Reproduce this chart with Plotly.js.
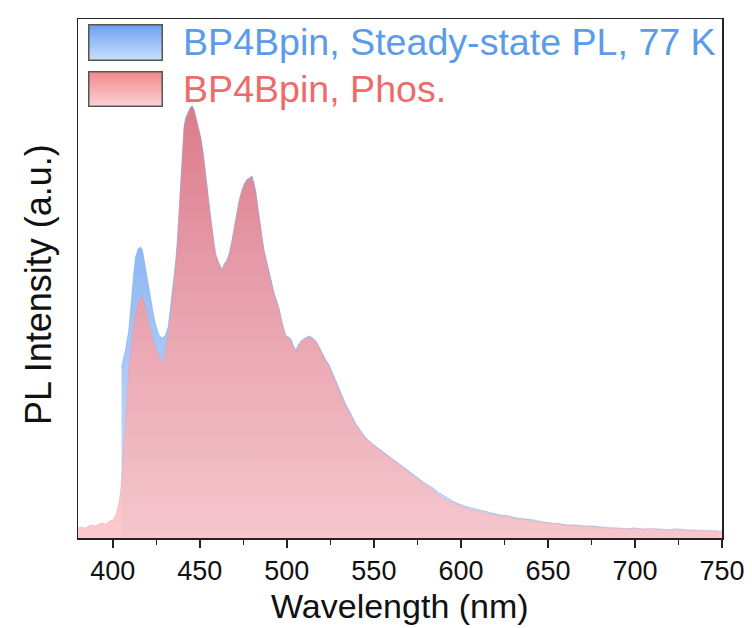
<!DOCTYPE html>
<html>
<head>
<meta charset="utf-8">
<script src="https://cdn.plot.ly/plotly-3.0.1.min.js"></script>
<style>html,body{margin:0;padding:0;background:#fff;}#chart{width:752px;height:628px;}</style>
</head>
<body>
<div id="chart"></div>
<script>
// Phosphorescence spectrum (red)
const wlPhos = [380,382,384,386,388,390,392,394,396,398,400,402,403.5,404.5,405.4,406.3,407.3,408.2,409.2,410.2,411.1,412.1,413.1,414.5,416,417,417.8,419.2,420.7,422.1,423.6,425,426.5,427.5,428.4,429.4,430.3,431.8,433.2,434.6,436.1,437,438,439,440,440.9,441.8,442.8,443.8,444.7,445.7,446.6,447.6,448.5,449.5,450.5,452,453.4,454.8,456.2,457.7,459.1,460.5,462,463,463.9,465.3,466.8,468.3,469.7,471.1,472.5,474,475.4,477.3,478.5,479.8,481,482.1,483,484,485.5,486.9,488.3,489.8,491.2,492.7,494.2,495.6,497.5,499.4,501,502.3,503.8,505.2,506.6,508.1,510.5,512.8,514.8,516.7,518.6,520.5,522.4,524.3,526.2,528.2,530,532,534,535.9,537.8,539.7,542.5,545.5,547,549.3,551,553.1,555,557,559,560.8,562.8,564.5,566.5,568.5,570.4,572,574,576,578.1,580,582,584,585.8,587.5,589.5,591.5,593.4,595,597,599,601.1,603.5,606,608.5,610.7,613,615.5,618,620.3,622.5,625,627.5,629.9,632,634.7,637,639.5,642,644.3,646.5,649.1,651.5,654,656.5,658.7,661,663.5,666,668,670.5,673,675.5,678,680.5,683,685.5,688,690.5,693,695,697,699.5,702,704.5,707,709.5,712,714,716,718.5,721,723.5,726,728.5,731,733,735.5,738,740,742.5,745,747.5,750];
const phos = [10,11,10,12,13,12,14,15,14,17,18,24,35,48,68,93,121,146,168,186,201,214,225,234,240,241,238,228,215,204,195,188,183,178,176,181,188,203,221,246,275,293,323,358,388,410,418,423,427,430,431,428,420,413,406,400,383,360,340,320,300,283,276,270,268,273,276,283,295,310,324,336,346,353,358,359,362,355,346,333,320,303,286,275,263,253,243,235,228,213,201,200,198,191,186,192,196,199,201,199,196,190,183,177,171,163,155,146,138,131,125,118,113,106,99,97,93,91,88,86,83,80,78,76,73,71,68,65,64,60,58,55,53,50,48,45,43,40,39,36,36,34,33,31,30,28,28,26,26,24,24,23,22,21,22,20,19,18,19,17,17,16,17,15,15,14,15,13,13,12,13,12,11,12,11,11,10,11,10,10,9,10,9,9,10,9,8,10,9,9,8,9,8,7,9,9,8,8,7,8,8,7,8,7,7,7];

// Steady-state PL spectrum at 77 K (blue)
const wlPL = [405,405.4,406.3,407.3,408.2,409.2,410.2,411.1,412.1,413.1,414.5,416,417,417.8,419.2,420.7,422.1,423.6,425,426.5,427.5,428.4,429.4,430.3,431.8,433.2,434.6,436.1,437,438,439,440,440.9,441.8,442.8,443.8,444.7,445.7,446.6,447.6,448.5,449.5,450.5,452,453.4,454.8,456.2,457.7,459.1,460.5,462,463,463.9,465.3,466.8,468.3,469.7,471.1,472.5,474,475.4,477.3,478.5,479.8,481,482.1,483,484,485.5,486.9,488.3,489.8,491.2,492.7,494.2,495.6,497.5,499.4,501,502.3,503.8,505.2,506.6,508.1,510.5,512.8,514.8,516.7,518.6,520.5,522.4,524.3,526.2,528.2,530,532,534,535.9,537.8,539.7,542.5,545.5,549.3,553.1,557,560.8,564.5,568.5,572,576,580,584,587.5,591.5,595,599,603.5,608.5,613,618,622.5,627.5,632,637,642,646.5,651.5,656.5,661,666,670.5,675.5,680.5,685.5,690.5,695,699.5,704.5,709.5,714,718.5,723.5,728.5,733,738,742.5,747.5,750];
const pl = [170,175,181,188,198,208,228,248,266,281,289,291,288,280,265,248,233,221,211,203,201,200,201,203,211,231,253,276,295,325,360,390,411,420,425,428,431,432,429,421,414,407,401,384,361,341,321,301,284,277,271,269,274,277,284,296,311,325,337,347,354,359,360,362,356,347,334,321,304,288,277,265,255,245,237,229,214,202,201,199,192,188,193,197,200,202,200,197,191,184,178,173,165,157,148,140,133,127,120,114,107,100,94,89,84,79,74,69,65,59,54,50,45,41,37,34,31,29,27,25,23,22,20,19,18,16,15,14,13,13,12,12,11,10,10,9,10,9,9,9,8,9,8,8,7,7,7];

// Axis tick values
const xTickVals = [400,450,500,550,600,650,700,750];
const xTickText = ['400','450','500','550','600','650','700','750'];
const xMinorVals = [425,475,525,575,625,675,725];

const legendPL = 'BP4Bpin, Steady-state PL, 77 K';
const legendPhos = 'BP4Bpin, Phos.';
const xTitle = 'Wavelength (nm)';
const yTitle = 'PL Intensity (a.u.)';

const FONT = 'Liberation Sans, Arial, sans-serif';
const W = 752, H = 628, ML = 78, MR = 30, MT = 19, MB = 90;
const PW = W - ML - MR, PH = H - MT - MB;
const px2x = p => (p - ML) / PW;
const py2y = p => (H - MB - p) / PH;

function swatch(top, bottom) {
  const svg = "<svg xmlns='http://www.w3.org/2000/svg' width='75' height='37' viewBox='0 0 75 37'>" +
    "<defs><linearGradient id='g' x1='0' y1='0' x2='0' y2='1'>" +
    "<stop offset='0' stop-color='" + top + "'/><stop offset='1' stop-color='" + bottom + "'/>" +
    "</linearGradient></defs>" +
    "<rect x='0.75' y='0.75' width='73.5' height='35.5' fill='url(#g)' stroke='#555' stroke-width='1.5'/></svg>";
  return 'data:image/svg+xml;charset=utf-8,' + encodeURIComponent(svg);
}

const traces = [
  {
    x: wlPL, y: pl, type: 'scatter', mode: 'lines', name: legendPL,
    line: {width: 0.6, color: 'rgba(120,165,235,0.9)'},
    fill: 'tozeroy',
    fillgradient: {type: 'vertical', start: 0, stop: 431,
      colorscale: [[0, 'rgb(208,227,252)'], [1, 'rgb(112,162,238)']]},
    hoverinfo: 'skip'
  },
  {
    x: wlPhos, y: phos, type: 'scatter', mode: 'lines', name: legendPhos,
    line: {width: 0.6, color: 'rgba(228,140,150,0.5)'},
    fill: 'tozeroy',
    fillgradient: {type: 'vertical', start: 0, stop: 431,
      colorscale: [[0, 'rgba(251,194,198,0.87)'], [0.5, 'rgba(244,160,166,0.87)'], [1, 'rgba(236,118,126,0.87)']]},
    hoverinfo: 'skip'
  }
];

const layout = {
  width: W, height: H,
  margin: {l: ML, r: MR, t: MT, b: MB, pad: 0},
  paper_bgcolor: '#ffffff', plot_bgcolor: '#ffffff',
  showlegend: false,
  font: {family: FONT, color: '#111'},
  xaxis: {
    range: [380, 750], tickmode: 'array', tickvals: xTickVals, ticktext: xTickText,
    ticks: 'outside', ticklen: 8, tickwidth: 1.5, tickcolor: '#222',
    showline: true, linecolor: '#222', linewidth: 1.5, mirror: true,
    showgrid: false, zeroline: false,
    tickfont: {family: FONT, size: 27, color: '#111'},
    minor: {tickmode: 'array', tickvals: xMinorVals, ticks: 'outside', ticklen: 5, tickwidth: 1.5, tickcolor: '#222', showgrid: false}
  },
  yaxis: {
    range: [0, 519], showline: true, linecolor: '#222', linewidth: 1.5, mirror: true,
    showticklabels: false, ticks: '', showgrid: false, zeroline: false
  },
  annotations: [
    {text: xTitle, xref: 'paper', yref: 'paper', x: 0.5, y: py2y(606), xanchor: 'center', yanchor: 'middle',
     showarrow: false, font: {family: FONT, size: 34, color: '#111'}},
    {text: yTitle, xref: 'paper', yref: 'paper', x: px2x(38), y: py2y(285), xanchor: 'center', yanchor: 'middle',
     textangle: -90, showarrow: false, font: {family: FONT, size: 36, color: '#111'}},
    {text: legendPL, xref: 'paper', yref: 'paper', x: px2x(181), y: py2y(42), xanchor: 'left', yanchor: 'middle',
     showarrow: false, font: {family: FONT, size: 37.6, color: '#5b9be9'}},
    {text: legendPhos, xref: 'paper', yref: 'paper', x: px2x(181), y: py2y(89), xanchor: 'left', yanchor: 'middle',
     showarrow: false, font: {family: FONT, size: 37.6, color: '#ee6b6b'}}
  ],
  images: [
    {source: swatch('#6c9fee', '#c9e0fc'), xref: 'paper', yref: 'paper', x: px2x(88), y: py2y(24),
     sizex: 75 / PW, sizey: 37 / PH, xanchor: 'left', yanchor: 'top', sizing: 'stretch', layer: 'above'},
    {source: swatch('#f08888', '#fcd2d6'), xref: 'paper', yref: 'paper', x: px2x(88), y: py2y(71),
     sizex: 75 / PW, sizey: 36 / PH, xanchor: 'left', yanchor: 'top', sizing: 'stretch', layer: 'above'}
  ]
};

Plotly.newPlot('chart', traces, layout, {displayModeBar: false, staticPlot: true});
</script>
</body>
</html>
